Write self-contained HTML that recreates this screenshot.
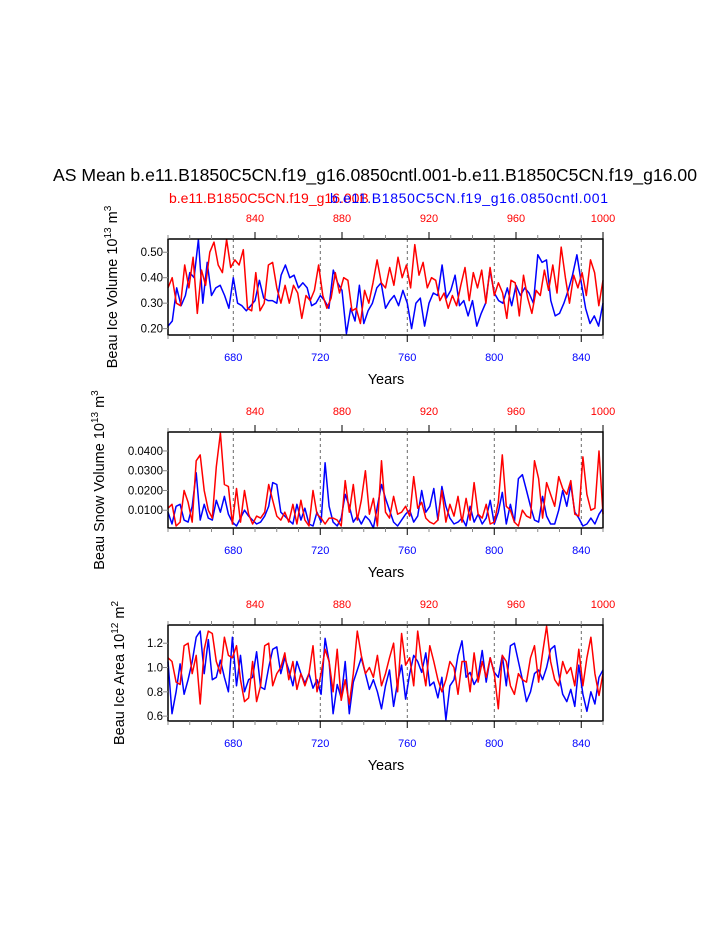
<!DOCTYPE html>
<html><head><meta charset="utf-8"><style>
body{margin:0;background:#fff;}
svg{display:block;font-family:"Liberation Sans",sans-serif;}
</style></head><body>
<svg id="c" width="723" height="935" xmlns="http://www.w3.org/2000/svg">
<text x="53" y="181" font-size="17.5" textLength="644" lengthAdjust="spacingAndGlyphs">AS Mean b.e11.B1850C5CN.f19_g16.0850cntl.001-b.e11.B1850C5CN.f19_g16.00</text>
<text x="169" y="203" font-size="14" fill="#f00">b.e11.B1850C5CN.f19_g16.00B</text>
<text x="330" y="203" font-size="14" fill="#00f" textLength="278">b.e11.B1850C5CN.f19_g16.0850cntl.001</text>
</svg>
<script>
const blueYears=[680,720,760,800,840];
const redYears=[840,880,920,960,1000];
const iceVolBlue=[0.21,0.23,0.36,0.29,0.33,0.42,0.40,0.55,0.30,0.46,0.33,0.36,0.37,0.33,0.28,0.40,0.30,0.29,0.27,0.29,0.31,0.39,0.32,0.31,0.31,0.30,0.41,0.45,0.40,0.41,0.36,0.38,0.36,0.29,0.30,0.33,0.31,0.28,0.43,0.38,0.35,0.18,0.28,0.23,0.37,0.22,0.27,0.30,0.36,0.38,0.28,0.31,0.33,0.29,0.35,0.30,0.20,0.30,0.32,0.21,0.30,0.34,0.33,0.45,0.32,0.35,0.41,0.29,0.31,0.25,0.31,0.21,0.26,0.30,0.43,0.34,0.31,0.30,0.36,0.29,0.37,0.33,0.36,0.34,0.30,0.49,0.46,0.47,0.31,0.25,0.26,0.30,0.35,0.41,0.49,0.38,0.28,0.22,0.25,0.21,0.30];
const iceVolRed=[0.36,0.40,0.30,0.29,0.45,0.36,0.48,0.26,0.43,0.37,0.50,0.54,0.45,0.42,0.55,0.44,0.47,0.45,0.51,0.28,0.27,0.42,0.27,0.30,0.45,0.46,0.36,0.30,0.37,0.30,0.37,0.34,0.24,0.33,0.31,0.35,0.45,0.33,0.28,0.32,0.42,0.34,0.40,0.39,0.27,0.28,0.22,0.35,0.30,0.38,0.47,0.38,0.36,0.44,0.37,0.48,0.40,0.45,0.36,0.53,0.41,0.46,0.36,0.40,0.39,0.31,0.34,0.28,0.33,0.29,0.37,0.44,0.31,0.42,0.36,0.43,0.30,0.44,0.33,0.38,0.34,0.24,0.39,0.38,0.25,0.41,0.32,0.26,0.35,0.33,0.43,0.35,0.45,0.34,0.52,0.40,0.30,0.41,0.36,0.42,0.33,0.47,0.42,0.29,0.39];
const snowBlue=[0.009,0.003,0.012,0.013,0.005,0.004,0.012,0.029,0.005,0.013,0.006,0.005,0.015,0.009,0.017,0.008,0.004,0.002,0.006,0.010,0.007,0.005,0.003,0.004,0.007,0.012,0.024,0.023,0.009,0.007,0.005,0.003,0.013,0.005,0.011,0.003,0.002,0.009,0.004,0.034,0.012,0.004,0.002,0.006,0.018,0.012,0.004,0.007,0.003,0.007,0.005,0.001,0.012,0.023,0.016,0.010,0.004,0.002,0.005,0.008,0.010,0.004,0.007,0.020,0.009,0.012,0.021,0.005,0.022,0.012,0.006,0.003,0.004,0.006,0.002,0.012,0.004,0.008,0.003,0.006,0.015,0.003,0.009,0.019,0.003,0.013,0.004,0.026,0.028,0.020,0.012,0.005,0.004,0.017,0.007,0.003,0.003,0.010,0.020,0.012,0.023,0.009,0.006,0.002,0.003,0.006,0.003,0.008,0.011];
const snowRed=[0.011,0.013,0.002,0.004,0.020,0.014,0.004,0.035,0.038,0.020,0.010,0.006,0.032,0.049,0.023,0.022,0.003,0.021,0.004,0.020,0.008,0.003,0.007,0.006,0.009,0.023,0.015,0.007,0.005,0.009,0.004,0.013,0.003,0.015,0.005,0.002,0.020,0.008,0.006,0.003,0.006,0.006,0.005,0.002,0.025,0.009,0.023,0.005,0.015,0.030,0.008,0.016,0.002,0.035,0.009,0.006,0.017,0.008,0.009,0.012,0.007,0.027,0.011,0.014,0.006,0.004,0.003,0.005,0.020,0.004,0.013,0.007,0.017,0.004,0.016,0.005,0.024,0.008,0.006,0.013,0.003,0.004,0.014,0.038,0.012,0.010,0.004,0.002,0.010,0.007,0.006,0.035,0.026,0.006,0.024,0.018,0.012,0.027,0.021,0.018,0.025,0.008,0.007,0.037,0.018,0.010,0.011,0.040,0.008];
const areaBlue=[1.05,0.62,0.80,1.03,0.78,0.90,1.05,1.25,1.30,0.95,1.23,0.90,0.92,1.06,0.92,0.80,1.25,0.85,1.10,0.80,0.90,0.92,1.13,0.84,0.82,1.00,1.15,1.17,0.95,1.08,0.98,0.85,1.05,0.95,0.87,0.95,0.83,0.90,0.78,1.24,1.05,0.62,0.86,0.75,1.05,0.62,0.88,0.98,1.08,0.95,0.82,0.90,0.80,0.66,0.85,0.98,0.68,0.88,1.02,0.74,0.95,1.10,1.05,0.96,1.12,0.85,0.88,0.75,0.92,0.57,0.85,0.90,1.10,1.22,0.92,0.96,0.86,0.92,1.14,0.88,1.08,0.96,0.92,1.10,0.85,1.18,1.20,1.05,0.90,0.72,0.80,0.95,0.98,0.90,1.00,1.15,1.18,0.95,0.78,0.72,0.82,0.68,1.02,0.78,0.64,0.80,0.70,0.92,0.98];
const areaRed=[1.08,1.05,0.88,0.86,1.18,1.20,0.95,1.10,0.70,1.15,1.30,1.28,1.05,0.95,1.25,1.10,1.08,1.18,0.90,0.72,0.75,1.05,0.72,0.85,1.18,1.20,0.85,0.95,1.00,1.12,0.90,1.05,0.82,0.95,0.85,0.95,1.18,0.80,0.95,1.15,1.05,0.80,1.15,0.73,0.90,0.70,0.95,1.30,1.10,0.95,1.00,0.92,1.10,0.85,0.95,1.08,1.20,0.80,1.28,1.02,1.08,0.85,1.30,1.05,0.85,1.18,1.05,0.90,0.80,0.90,1.05,1.00,0.78,1.05,1.05,0.80,1.12,0.88,1.05,0.92,1.08,0.95,0.66,1.10,1.05,0.85,0.78,0.95,0.90,0.88,1.08,1.18,0.88,1.12,1.34,1.05,0.90,0.85,1.05,0.95,1.00,0.85,1.15,0.85,1.08,1.25,0.95,0.77,0.95];
const volTicks=[0.20,0.30,0.40,0.50];
const snowTicks=[0.01,0.02,0.03,0.04];
const areaTicks=[0.6,0.8,1.0,1.2];

const NS="http://www.w3.org/2000/svg";
const svg=document.getElementById('c');
const X0=168,X1=603;
function mk(tag,at,parent){const e=document.createElementNS(NS,tag);for(const k in at)e.setAttribute(k,at[k]);(parent||svg).appendChild(e);return e;}
function xb(y){return X0+(y-650)/200*(X1-X0);}
function xt(y){return X0+(y-800)/200*(X1-X0);}

const panels=[
 {top:239,bot:335,min:0.175,max:0.552,ticks:volTicks,fmt:v=>v.toFixed(2),blue:iceVolBlue,red:iceVolRed,label:'Beau Ice Volume 10',sup:'13',unit:' m',usup:'3',lx:117,name:'ice-volume'},
 {top:432,bot:528,min:0.001,max:0.0496,ticks:snowTicks,fmt:v=>v.toFixed(4),blue:snowBlue,red:snowRed,label:'Beau Snow Volume 10',sup:'13',unit:' m',usup:'3',lx:104,name:'snow-volume'},
 {top:625,bot:721,min:0.56,max:1.35,ticks:areaTicks,fmt:v=>v.toFixed(1),blue:areaBlue,red:areaRed,label:'Beau Ice Area 10',sup:'12',unit:' m',usup:'2',lx:124,name:'ice-area'}
];
panels.forEach(p=>{
 const g=mk('g',{});
 
 
 const ys=v=>p.bot-(v-p.min)/(p.max-p.min)*(p.bot-p.top);
 blueYears.forEach(y=>{const l=mk('line',{x1:xb(y),x2:xb(y),y1:p.top,y2:p.bot,stroke:'#444','stroke-width':0.8,'stroke-dasharray':'3,3'},g);
  });
 [[p.blue,'#00f','blue'],[p.red,'#f00','red']].forEach(([arr,col,nm])=>{
  const n=arr.length;const pts=arr.map((v,i)=>xb(650+i*200/(n-1)).toFixed(1)+','+ys(v).toFixed(1)).join(' ');
  const pl=mk('polyline',{points:pts,fill:'none',stroke:col,'stroke-width':1.5,'stroke-linejoin':'round'},g);
  
 });
 const fr=mk('rect',{x:X0,y:p.top,width:X1-X0,height:p.bot-p.top,fill:'none',stroke:'#000','stroke-width':1.5},g);
 
 for(let y=650;y<=850;y+=10){const maj=blueYears.includes(y);mk('line',{x1:xb(y),x2:xb(y),y1:p.bot,y2:p.bot+(maj?7:4),stroke:maj?'#000':'#888','stroke-width':1},g);}
 blueYears.forEach(y=>{const t=mk('text',{x:xb(y),y:p.bot+26,'font-size':11,fill:'#00f','text-anchor':'middle'},g);t.textContent=y;
  });
 for(let y=800;y<=1000;y+=10){const maj=redYears.includes(y);mk('line',{x1:xt(y),x2:xt(y),y1:p.top,y2:p.top-(maj?7:4),stroke:maj?'#000':'#888','stroke-width':1},g);}
 redYears.forEach(y=>{const t=mk('text',{x:xt(y),y:p.top-17,'font-size':11,fill:'#f00','text-anchor':'middle'},g);t.textContent=y;
  });
 p.ticks.forEach(v=>{const y=ys(v);mk('line',{x1:X0-5,x2:X0,y1:y,y2:y,stroke:'#888'},g);
  const t=mk('text',{x:X0-5,y:y+4,'font-size':11.5,'text-anchor':'end'},g);t.textContent=p.fmt(v);
  });
 const xtl=mk('text',{x:386,y:p.bot+49,'font-size':14.5,'text-anchor':'middle'},g);xtl.textContent='Years';
 
 const cy=(p.top+p.bot)/2;
 const yt=mk('text',{x:p.lx,y:cy,'font-size':14.5,'text-anchor':'middle',transform:`rotate(-90 ${p.lx} ${cy})`},g);
 
 yt.appendChild(document.createTextNode(p.label));
 const s1=mk('tspan',{dy:-6,'font-size':10},yt);s1.textContent=p.sup;
 const s2=mk('tspan',{dy:6},yt);s2.textContent=p.unit;
 const s3=mk('tspan',{dy:-6,'font-size':10},yt);s3.textContent=p.usup;
});
</script>
</body></html>
